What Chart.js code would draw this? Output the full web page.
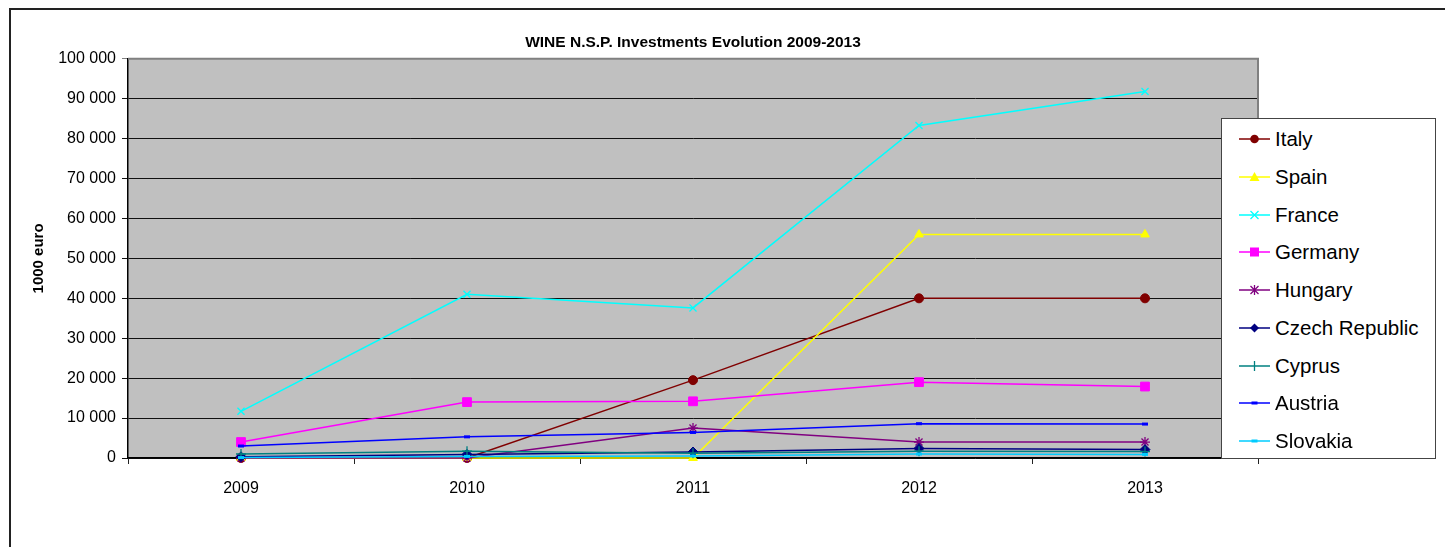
<!DOCTYPE html>
<html>
<head>
<meta charset="utf-8">
<script src="https://cdn.jsdelivr.net/npm/chart.js@4/dist/chart.umd.min.js"></script>
<style>
  html, body { margin: 0; padding: 0; background: #fff; overflow: hidden; }
  #wrap { position: relative; width: 1445px; height: 547px; }
  #frame { position: absolute; left: 9px; top: 8px; width: 1500px; height: 600px; border: 2px solid #222; box-sizing: border-box; }
  canvas { position: absolute; left: 0; top: 0; }
  #legend { position: absolute; left: 1221px; top: 118px; width: 215px; height: 341px; box-sizing: border-box;
            border: 1.5px solid #444; background: #fff; font-family: "Liberation Sans", Arial, sans-serif; font-size: 20.5px; color: #000; }
  .row { position: absolute; left: 17px; height: 38px; display: flex; align-items: center; }
  .row svg { width: 31px; height: 16px; margin-right: 5px; flex: none; }
</style>
</head>
<body>
<div id="wrap">
  <div id="frame"></div>
  <canvas id="c" width="1445" height="547"></canvas>
  <div id="legend"></div>
</div>
<script>
// ---- data ----
const years = ["2009", "2010", "2011", "2012", "2013"];
const seriesNames = ["Italy", "Spain", "France", "Germany", "Hungary", "Czech Republic", "Cyprus", "Austria", "Slovakia"];
const italy    = [0, 0, 19500, 40000, 40000];
const spain    = [0, 0, 0, 56000, 56000];
const france   = [11700, 41000, 37600, 83300, 91800];
const germany  = [4000, 14000, 14200, 19000, 17900];
const hungary  = [0, 0, 7500, 4000, 4000];
const czech    = [300, 900, 1500, 2400, 2100];
const cyprus   = [1000, 1700, 1200, 1700, 1600];
const austria  = [3000, 5300, 6400, 8600, 8500];
const slovakia = [100, 400, 500, 1000, 900];
const yTicks   = [0, 10000, 20000, 30000, 40000, 50000, 60000, 70000, 80000, 90000, 100000];
const seriesValues = [italy, spain, france, germany, hungary, czech, cyprus, austria, slovakia];

// ---- styles ----
const styles = [
  { color: '#800000', point: 'circle',   r: 4.5, bw: 1 },
  { color: '#FFFF00', point: 'triangle', r: 5,   bw: 1 },
  { color: '#00FFFF', point: 'crossRot', r: 5,   bw: 1.3 },
  { color: '#FF00FF', point: 'rect',     r: 6.2, bw: 1 },
  { color: '#800080', point: 'star',     r: 5,   bw: 1.3 },
  { color: '#000080', point: 'rectRot',  r: 5,   bw: 1 },
  { color: '#008080', point: 'cross',    r: 5,   bw: 1.3 },
  { color: '#0000FF', point: 'line',     r: 3,   bw: 3 },
  { color: '#00CCFF', point: 'line',     r: 3,   bw: 3 }
];

const FONT = '"Liberation Sans", Arial, sans-serif';
Chart.defaults.font.family = FONT;
Chart.defaults.color = '#000';

const datasets = seriesNames.map((name, i) => ({
  label: name,
  data: seriesValues[i],
  borderColor: styles[i].color,
  backgroundColor: styles[i].color,
  borderWidth: 1.5,
  pointStyle: styles[i].point,
  pointRadius: styles[i].r,
  pointBorderWidth: styles[i].bw,
  pointBackgroundColor: styles[i].color,
  pointBorderColor: styles[i].color,
  tension: 0,
  clip: false,
  order: -i
}));

const plotBg = {
  id: 'plotBg',
  beforeDraw(chart) {
    const { ctx, chartArea: a } = chart;
    ctx.save();
    ctx.fillStyle = '#C0C0C0';
    ctx.fillRect(a.left, a.top, a.right - a.left, a.bottom - a.top);
    ctx.restore();
  },
  afterDatasetsDraw(chart) {},
  beforeDatasetsDraw(chart) {
    const { ctx, chartArea: a } = chart;
    ctx.save();
    ctx.strokeStyle = '#808080';
    ctx.lineWidth = 2;
    ctx.beginPath();
    ctx.moveTo(a.left, a.top);
    ctx.lineTo(a.right, a.top);
    ctx.lineTo(a.right, a.bottom);
    ctx.stroke();
    ctx.restore();
  }
};

new Chart(document.getElementById('c'), {
  type: 'line',
  data: { labels: years, datasets },
  plugins: [plotBg],
  options: {
    responsive: false,
    animation: false,
    events: [],
    layout: { padding: { left: 10, right: 187, top: 0, bottom: 49 } },
    plugins: {
      legend: { display: false },
      tooltip: { enabled: false },
      title: {
        display: true,
        text: 'WINE N.S.P. Investments Evolution 2009-2013',
        fullSize: false,
        color: '#000',
        font: { size: 15.5, weight: 'bold', family: FONT },
        padding: { top: 33.6, bottom: 6.6 }
      }
    },
    scales: {
      x: {
        offset: true,
        grid: { offset: true, drawOnChartArea: false, tickLength: 6, color: '#222', lineWidth: 1 },
        border: { color: '#000', width: 1.5 },
        ticks: { padding: 15, font: { size: 16 }, color: '#000', maxRotation: 0 },
        afterFit(axis) { axis.height = 40; }
      },
      y: {
        min: 0, max: 100000,
        afterBuildTicks(axis) { axis.ticks = yTicks.map(v => ({ value: v })); },
        grid: {
          tickLength: 6,
          color: ctx => (ctx.tick && ctx.tick.value === 100000) ? '#808080' : '#111',
          lineWidth: 1
        },
        border: { color: '#000', width: 1.5 },
        ticks: {
          padding: 6,
          font: { size: 16 },
          color: '#000',
          callback: v => String(v).replace(/\B(?=(\d{3})+(?!\d))/g, ' ')
        },
        title: {
          display: true,
          text: '1000 euro',
          color: '#000',
          font: { size: 15, weight: 'bold', family: FONT },
          padding: { top: 20, bottom: 0 }
        },
        afterFit(axis) { axis.width = 118; }
      }
    }
  }
});

// ---- HTML legend ----
function markerSvg(st) {
  const c = st.color;
  const cx = 15.5, cy = 8;
  let m = '';
  switch (st.point) {
    case 'circle':   m = `<circle cx="${cx}" cy="${cy}" r="4.3" fill="${c}"/>`; break;
    case 'triangle': m = `<polygon points="${cx},${cy-5} ${cx+5},${cy+4} ${cx-5},${cy+4}" fill="${c}"/>`; break;
    case 'crossRot': m = `<path d="M${cx-4} ${cy-4}L${cx+4} ${cy+4}M${cx+4} ${cy-4}L${cx-4} ${cy+4}" stroke="${c}" stroke-width="1.3"/>`; break;
    case 'rect':     m = `<rect x="${cx-4.5}" y="${cy-4.5}" width="9" height="9" fill="${c}"/>`; break;
    case 'star':     m = `<path d="M${cx-4} ${cy-4}L${cx+4} ${cy+4}M${cx+4} ${cy-4}L${cx-4} ${cy+4}M${cx} ${cy-5}L${cx} ${cy+5}" stroke="${c}" stroke-width="1.3"/>`; break;
    case 'rectRot':  m = `<polygon points="${cx},${cy-4.5} ${cx+4.5},${cy} ${cx},${cy+4.5} ${cx-4.5},${cy}" fill="${c}"/>`; break;
    case 'cross':    m = `<path d="M${cx} ${cy-5}L${cx} ${cy+5}" stroke="${c}" stroke-width="1.3"/>`; break;
    case 'line':     m = `<rect x="${cx-3}" y="${cy-1.5}" width="6" height="3" fill="${c}"/>`; break;
  }
  return `<svg viewBox="0 0 31 16"><line x1="0" y1="${cy}" x2="31" y2="${cy}" stroke="${c}" stroke-width="1.5"/>${m}</svg>`;
}
const leg = document.getElementById('legend');
seriesNames.forEach((name, i) => {
  const row = document.createElement('div');
  row.className = 'row';
  row.style.top = (1 + i * 37.75) + 'px';
  row.innerHTML = markerSvg(styles[i]) + '<span>' + name + '</span>';
  leg.appendChild(row);
});
</script>
</body>
</html>
